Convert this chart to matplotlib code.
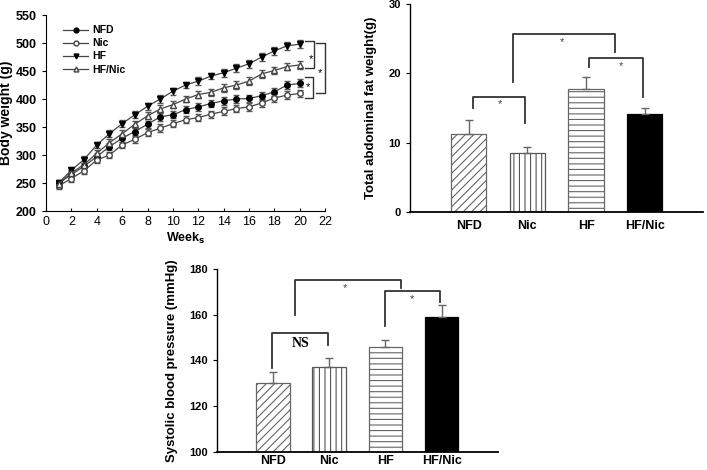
import matplotlib
matplotlib.use("Agg")
import matplotlib.pyplot as plt
from matplotlib.lines import Line2D
import numpy as np

plt.rcParams['font.family'] = ['Liberation Sans', 'DejaVu Sans']
plt.rcParams['hatch.color'] = '#666666'
plt.rcParams['hatch.linewidth'] = 0.8

# ---- Panel A data: body weight over weeks ----
weeks = list(range(1, 21))
nfd_w = [250, 265, 280, 297, 315, 330, 342, 355, 368, 372, 381, 386, 392, 397, 400, 401, 406, 413, 425, 428]
nic_w = [245, 258, 272, 291, 300, 318, 328, 340, 348, 356, 363, 367, 373, 378, 383, 386, 393, 402, 407, 410]
hf_w = [250, 273, 292, 318, 338, 356, 372, 387, 400, 414, 425, 432, 441, 447, 455, 463, 475, 486, 495, 498]
hfnic_w = [248, 268, 283, 303, 322, 338, 355, 370, 382, 390, 400, 408, 412, 420, 425, 432, 445, 451, 458, 461]
err_w = [6, 6, 6, 6, 6, 6, 6, 6, 7, 6, 6, 7, 6, 7, 7, 7, 7, 7, 7, 7]

# ---- Panel B data: abdominal fat ----
groups = ['NFD', 'Nic', 'HF', 'HF/Nic']
fat = [11.3, 8.5, 17.8, 14.2]
fat_err = [2.0, 0.9, 1.7, 0.8]

# ---- Panel C data: systolic blood pressure ----
sbp = [130, 137, 146, 159]
sbp_err = [5, 4, 3, 5]

fig = plt.figure(figsize=(7.07, 4.70), dpi=100)

# ---------------- Panel A ----------------
axA = fig.add_axes([0.065, 0.551, 0.395, 0.417])
ecol = '#555555'
specs = [
    ('NFD', nfd_w, dict(marker='o', mfc='black', mec='black')),
    ('Nic', nic_w, dict(marker='o', mfc='white', mec='#444444')),
    ('HF', hf_w, dict(marker='v', mfc='black', mec='black')),
    ('HF/Nic', hfnic_w, dict(marker='^', mfc='white', mec='#444444')),
]
handles = []
for name, vals, mk in specs:
    axA.errorbar(weeks, vals, yerr=err_w, color='#444444', lw=0.9, ms=4,
                 capsize=2.5, elinewidth=0.8, ecolor=ecol, **mk)
    handles.append(Line2D([], [], color='#444444', lw=0.9, ms=3.5, label=name, **mk))
axA.set_xlim(0, 22)
axA.set_ylim(200, 550)
axA.set_xticks(range(0, 23, 2))
axA.set_yticks(range(200, 551, 50))
for s in ['top', 'right']:
    axA.spines[s].set_visible(False)
axA.tick_params(axis='x', direction='in', length=2, labelsize=9)
axA.tick_params(axis='y', direction='out', length=3, labelsize=9)
for t in axA.get_yticklabels():
    t.set_fontweight('bold')
axA.set_ylabel('Body weight (g)', fontsize=10, fontweight='bold', labelpad=2)
axA.set_xlabel(r'Week$\mathbf{_s}$', fontsize=9, fontweight='bold', labelpad=2)
leg = axA.legend(handles=handles, loc='upper left', bbox_to_anchor=(0.04, 0.98), frameon=False,
                 fontsize=7.5, handlelength=2.4, labelspacing=0.3, handletextpad=0.4,
                 borderaxespad=0.2)
for t in leg.get_texts():
    t.set_fontweight('bold')

# significance brackets panel A
bk = dict(color='#333333', lw=1.0, clip_on=False)
axA.plot([20.4, 21.1, 21.1, 20.4], [504, 504, 456, 456], **bk)
axA.text(20.9, 472, '*', fontsize=8, ha='center', va='center', clip_on=False)
axA.plot([20.4, 21.05, 21.05, 20.4], [439, 439, 402, 402], **bk)
axA.text(20.65, 421, '*', fontsize=8, ha='center', va='center', clip_on=False)
axA.plot([21.3, 22.0, 22.0, 21.3], [500, 500, 411, 411], **bk)
axA.text(21.55, 446, '*', fontsize=8, ha='center', va='center', clip_on=False)

# ---------------- bar helper ----------------
hatches = ['////', '|||', '---', None]
faces = ['white', 'white', 'white', 'black']
edges = ['#666666', '#555555', '#666666', 'black']

def draw_bars(ax, vals, errs, pad):
    x = np.arange(len(vals))
    for i in range(len(vals)):
        ax.bar(x[i], vals[i], width=0.6, color=faces[i], edgecolor=edges[i],
               hatch=hatches[i], linewidth=0.9)
        ax.errorbar(x[i], vals[i], yerr=[[0], [errs[i]]], color='#666666',
                    capsize=3, elinewidth=1.0, capthick=1.0)
    ax.set_xlim(-1, 4)
    ax.set_xticks(x)
    ax.set_xticklabels(groups, fontsize=9, fontweight='bold')
    ax.tick_params(axis='x', length=0, pad=pad)
    ax.tick_params(axis='y', direction='out', length=3, labelsize=8)
    for t in ax.get_yticklabels():
        t.set_fontweight('bold')
    for s in ['top', 'right']:
        ax.spines[s].set_visible(False)
    ax.spines['bottom'].set_linewidth(1.3)
    ax.spines['left'].set_linewidth(1.0)

def bracket(ax, x1, y1, x2, y2, ytop, label, lx, ly, **tk):
    ax.plot([x1, x1, x2, x2], [y1, ytop, ytop, y2], color='#333333', lw=1.3, clip_on=False)
    ax.text(lx, ly, label, ha='center', va='center', clip_on=False, **tk)

# ---------------- Panel B ----------------
axB = fig.add_axes([0.58, 0.549, 0.415, 0.442])
draw_bars(axB, fat, fat_err, 6)
axB.set_ylim(0, 30)
axB.set_yticks([0, 10, 20, 30])
axB.set_ylabel('Total abdominal fat weight(g)', fontsize=9.5, fontweight='bold', labelpad=8)
bracket(axB, 0.08, 15.0, 0.96, 12.8, 16.6, '*', 0.53, 15.6, fontsize=8, color='#444444')
bracket(axB, 0.75, 18.8, 2.49, 23.1, 25.7, '*', 1.59, 24.6, fontsize=8, color='#444444')
bracket(axB, 2.05, 21.0, 2.97, 16.6, 22.3, '*', 2.6, 21.0, fontsize=8, color='#444444')

# ---------------- Panel C ----------------
axC = fig.add_axes([0.307, 0.038, 0.397, 0.39])
draw_bars(axC, sbp, sbp_err, 2)
axC.set_ylim(100, 180)
axC.set_yticks([100, 120, 140, 160, 180])
axC.set_ylabel('Systolic blood pressure (mmHg)', fontsize=9.5, fontweight='bold', labelpad=8)
axC.text(0.49, 147.6, 'NS', ha='center', va='center', fontsize=10,
         fontfamily='Liberation Serif', fontweight='bold')
bracket(axC, -0.02, 136.6, 0.97, 146.8, 152.2, '', 0.49, 147.6)
bracket(axC, 0.38, 159.9, 2.27, 171.5, 175.2, '*', 1.28, 171.5, fontsize=8, color='#444444')
bracket(axC, 2.0, 155.1, 2.97, 165.7, 170.5, '*', 2.48, 166.8, fontsize=8, color='#444444')

fig.savefig('out.png', dpi=100)
